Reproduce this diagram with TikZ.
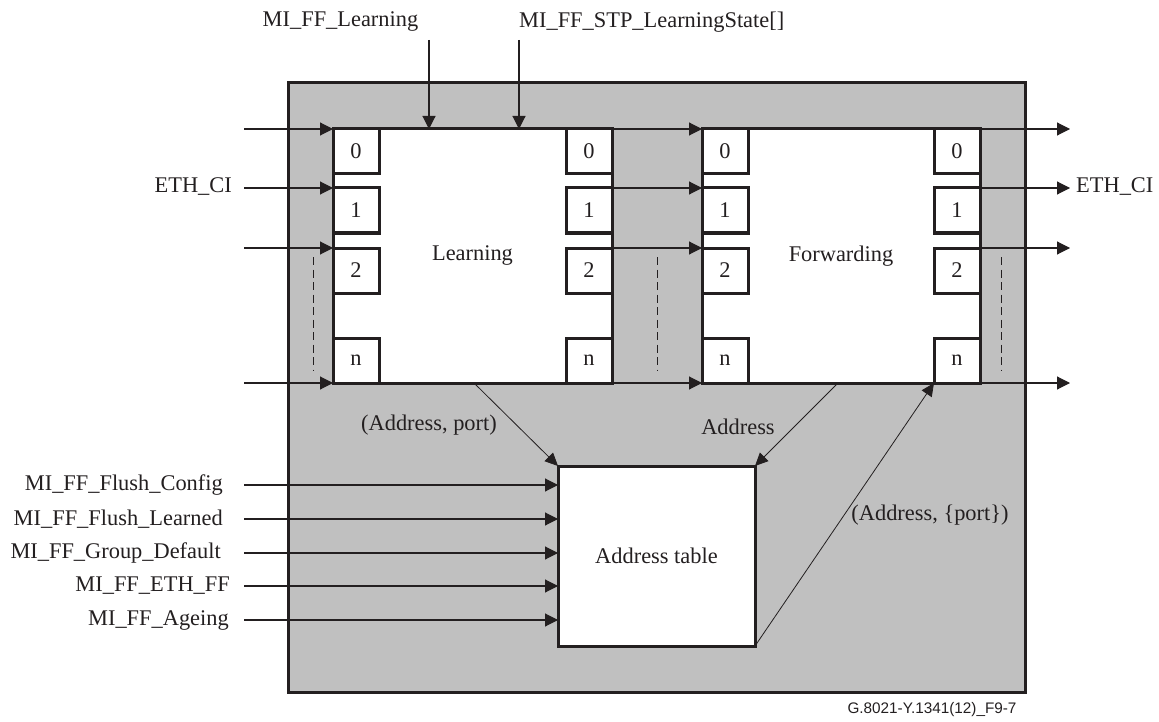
\documentclass[tikz,border=0pt]{standalone}
\usepackage{fontspec}
\setmainfont{Liberation Serif}
\newfontfamily\capfont{Liberation Sans}
\usetikzlibrary{arrows.meta,calc}
\definecolor{panel}{RGB}{192,192,192}
\definecolor{ink}{RGB}{35,31,32}
\begin{document}
\begin{tikzpicture}[x=1pt,y=-1pt,
  every node/.style={text=ink, font=\fontsize{22.4}{25}\selectfont},
  box/.style={draw=ink, line width=3pt, fill=white, inner sep=0pt, outer sep=0pt},
  port/.style={box, minimum width=46pt, minimum height=45pt},
  arr/.style={draw=ink, line width=1.1pt, -{Triangle[length=13pt,width=13pt]}},
  thinarr/.style={draw=ink, line width=0.8pt, -{Triangle[length=13pt,width=12pt]}},
  vdots/.style={draw=ink, line width=1pt, dash pattern=on 8pt off 4.5pt},
  lbl/.style={inner sep=0pt}]
\useasboundingbox (0,0) rectangle (1159,722);

% outer panel
\node[box, fill=panel, minimum width=737pt, minimum height=609pt] (outer) at (656.5,387.5) {};

% main function boxes
\node[box, minimum width=279pt, minimum height=254pt] (learn) at (472.5,256) {Learning};
\node[box, minimum width=278pt, minimum height=254pt] (fwd) at (841,256) {Forwarding};
\node[box, minimum width=197pt, minimum height=180pt] (atab) at (656.5,556) {Address table};

% ports of Learning
\node[port, anchor=north west] (L0) at (learn.north west) {0};
\node[port, anchor=north west] (L1) at ($(learn.north west)+(0,59)$) {1};
\node[port, anchor=north west] (L2) at ($(learn.north west)+(0,119)$) {2};
\node[port, anchor=south west] (Ln) at (learn.south west) {n};
\node[port, anchor=north east] (LR0) at (learn.north east) {0};
\node[port, anchor=north east] (LR1) at ($(learn.north east)+(0,59)$) {1};
\node[port, anchor=north east] (LR2) at ($(learn.north east)+(0,119)$) {2};
\node[port, anchor=south east] (LRn) at (learn.south east) {n};

% ports of Forwarding
\node[port, anchor=north west] (FL0) at (fwd.north west) {0};
\node[port, anchor=north west] (FL1) at ($(fwd.north west)+(0,59)$) {1};
\node[port, anchor=north west] (FL2) at ($(fwd.north west)+(0,119)$) {2};
\node[port, anchor=south west] (FLn) at (fwd.south west) {n};
\node[port, anchor=north east] (FR0) at (fwd.north east) {0};
\node[port, anchor=north east] (FR1) at ($(fwd.north east)+(0,59)$) {1};
\node[port, anchor=north east] (FR2) at ($(fwd.north east)+(0,119)$) {2};
\node[port, anchor=south east] (FRn) at (fwd.south east) {n};

% free ends
\coordinate (iX) at (244,0);
\coordinate (oX) at (1070,0);
\coordinate (t1) at (429,40);
\coordinate (t2) at (519,40);

% input arrows
\draw[arr] (iX |- L0.north west) -- (L0.north west);
\draw[arr] (iX |- L1.north west) -- (L1.north west);
\draw[arr] (iX |- L2.north west) -- (L2.north west);
\draw[arr] (iX |- Ln.south west) -- (Ln.south west);

% learning -> forwarding
\draw[arr] (LR0.north east) -- (FL0.north west);
\draw[arr] (LR1.north east) -- (FL1.north west);
\draw[arr] (LR2.north east) -- (FL2.north west);
\draw[arr] (LRn.south east) -- (FLn.south west);

% outputs
\draw[arr] (FR0.north east) -- (FR0.north east -| oX);
\draw[arr] (FR1.north east) -- (FR1.north east -| oX);
\draw[arr] (FR2.north east) -- (FR2.north east -| oX);
\draw[arr] (FRn.south east) -- (FRn.south east -| oX);

% ETH_CI labels
\node[lbl, anchor=east] (ethin) at (232,187) {ETH\_CI};
\node[lbl, anchor=west] (ethout) at (1076,187) {ETH\_CI};

% top management inputs
\node[lbl] (mlearn) at (340.5,22) {MI\_FF\_Learning};
\node[lbl, anchor=west] (mstp) at (519,22) {MI\_FF\_STP\_LearningState[]};
\draw[arr] (t1) -- (t1 |- learn.north);
\draw[arr] (t2) -- (t2 |- learn.north);

% dashed continuation marks
\draw[vdots] (313,257) -- (313,370);
\draw[vdots] (657,257) -- (657,370);
\draw[vdots] (1001,257) -- (1001,370);

% address table inputs
\node[lbl, anchor=east] (m1) at (223,485) {MI\_FF\_Flush\_Config};
\node[lbl, anchor=east] (m2) at (223,519) {MI\_FF\_Flush\_Learned};
\node[lbl, anchor=east] (m3) at (221,553) {MI\_FF\_Group\_Default};
\node[lbl, anchor=east] (m4) at (230,586) {MI\_FF\_ETH\_FF};
\node[lbl, anchor=east] (m5) at (229,620) {MI\_FF\_Ageing};
\draw[arr] (iX |- m1) -- (atab.west |- m1);
\draw[arr] (iX |- m2) -- (atab.west |- m2);
\draw[arr] (iX |- m3) -- (atab.west |- m3);
\draw[arr] (iX |- m4) -- (atab.west |- m4);
\draw[arr] (iX |- m5) -- (atab.west |- m5);

% address exchanges
\draw[thinarr] ([xshift=1.5pt]learn.south) -- (atab.north west);
\draw[thinarr] ([xshift=-3pt]fwd.south) -- (atab.north east);
\draw[thinarr] (atab.south east) -- (FRn.south west);
\node[lbl] (lap) at (429,425) {(Address, port)};
\node[lbl] (la) at (738,427) {Address};
\node[lbl] (lapp) at (930,515) {(Address, \{port\})};

% figure id
\node[lbl, font=\capfont\fontsize{15.3}{17}\selectfont] (fig) at (932,710) {G.8021-Y.1341(12)\_F9-7};
\end{tikzpicture}
\end{document}
